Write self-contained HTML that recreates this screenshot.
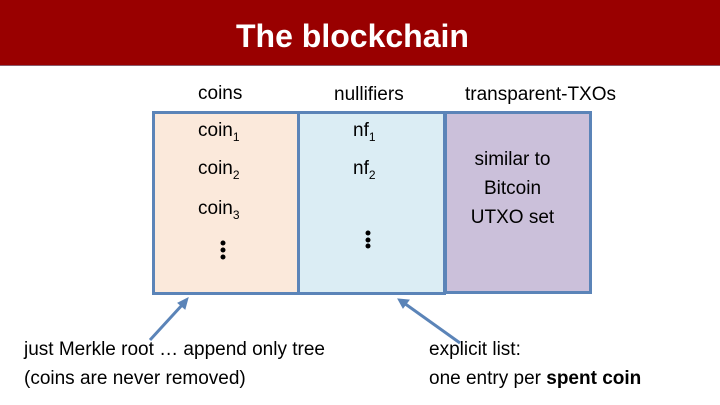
<!DOCTYPE html>
<html><head><style>
body{margin:0;width:720px;height:405px;background:#fff;position:relative;overflow:hidden;font-family:"Liberation Sans","DejaVu Sans",sans-serif;}
.t{position:absolute;white-space:nowrap;font-size:19px;color:#000;}
.box{position:absolute;border:3px solid #5b84b8;box-sizing:border-box;}
sub{font-size:12px;}
</style></head><body>
<div style="position:absolute;left:0;top:0;width:720px;height:65px;background:#990000;border-bottom:1px solid #8a5a6a"></div>
<div class="t" style="left:236px;top:18px;font-size:32px;font-weight:bold;color:#fff">The blockchain</div>
<div class="box" style="left:152px;top:111px;width:148px;height:184px;background:#fbe9db"></div>
<div class="box" style="left:297px;top:111px;width:149px;height:184px;background:#dbedf4"></div>
<div class="box" style="left:444px;top:111px;width:148px;height:183px;background:#cbc0da"></div>
<div class="t" style="left:198px;top:83px">coins</div>
<div class="t" style="left:334px;top:84px">nullifiers</div>
<div class="t" style="left:465px;top:84px">transparent-TXOs</div>
<div class="t" style="left:198px;top:120px">coin<sub>1</sub></div>
<div class="t" style="left:198px;top:158px">coin<sub>2</sub></div>
<div class="t" style="left:198px;top:198px">coin<sub>3</sub></div>
<div class="t" style="left:353px;top:120px">nf<sub>1</sub></div>
<div class="t" style="left:353px;top:158px">nf<sub>2</sub></div>
<div class="t" style="left:466px;top:145px;width:93px;text-align:center;line-height:29px;white-space:normal">similar to Bitcoin UTXO set</div>
<svg width="720" height="405" style="position:absolute;left:0;top:0">
<g fill="#000"><circle cx="223" cy="243" r="2.5"/><circle cx="223" cy="250" r="2.5"/><circle cx="223" cy="257" r="2.5"/>
<circle cx="368" cy="233" r="2.5"/><circle cx="368" cy="240" r="2.5"/><circle cx="368" cy="246" r="2.5"/></g>
<g stroke="#5b84b8" stroke-width="3" fill="#5b84b8">
<line x1="150" y1="340" x2="183" y2="304"/><polygon points="188,298 178,303 185,309" stroke-width="1"/>
<line x1="460" y1="343" x2="404" y2="303"/><polygon points="398,299 403,308 409,300" stroke-width="1"/>
</g></svg>
<div class="t" style="left:24px;top:339px">just Merkle root … append only tree</div>
<div class="t" style="left:24px;top:368px">(coins are never removed)</div>
<div class="t" style="left:429px;top:339px">explicit list:</div>
<div class="t" style="left:429px;top:368px">one entry per <b>spent coin</b></div>
</body></html>
